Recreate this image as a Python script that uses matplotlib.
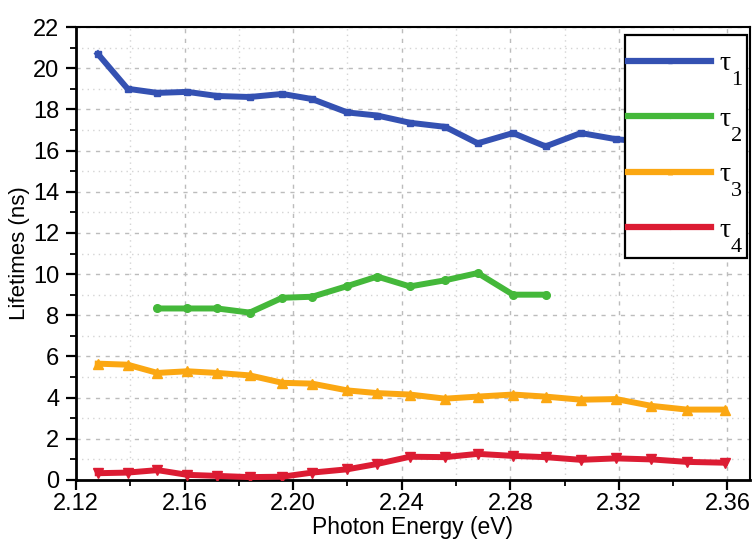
import matplotlib

matplotlib.use("Agg")
import matplotlib.pyplot as plt
from matplotlib.patches import Rectangle
from matplotlib.ticker import MultipleLocator

# -----------------------------
# Data
# -----------------------------
energy = [2.128, 2.139, 2.150, 2.161, 2.172, 2.184, 2.196, 2.207, 2.220, 2.231,
          2.243, 2.256, 2.268, 2.281, 2.293, 2.306, 2.319, 2.332, 2.345, 2.359]

tau1 = [20.7, 19.0, 18.8, 18.85, 18.65, 18.6, 18.75, 18.5, 17.85, 17.7,
        17.35, 17.15, 16.35, 16.85, 16.2, 16.85, 16.55, 16.4, 16.2, 16.1]

energy_tau2 = energy[2:15]
tau2 = [8.33, 8.33, 8.33, 8.13, 8.85, 8.9, 9.42, 9.88, 9.4, 9.7, 10.05, 9.0, 9.0]

tau3 = [5.65, 5.6, 5.2, 5.28, 5.2, 5.08, 4.72, 4.68, 4.35, 4.22,
        4.15, 3.95, 4.05, 4.15, 4.05, 3.9, 3.93, 3.6, 3.42, 3.42]

tau4 = [0.33, 0.36, 0.48, 0.25, 0.2, 0.14, 0.16, 0.36, 0.52, 0.78,
        1.13, 1.11, 1.27, 1.17, 1.11, 0.98, 1.05, 1.0, 0.88, 0.84]

x_ticks = [2.12, 2.16, 2.20, 2.24, 2.28, 2.32, 2.36]
x_tick_labels = ["2.12", "2.16", "2.20", "2.24", "2.28", "2.32", "2.36"]

legend_subscripts = ["1", "2", "3", "4"]

# -----------------------------
# Figure
# -----------------------------
plt.rcParams["font.family"] = ["Liberation Sans", "DejaVu Sans"]

W, H = 754, 542
fig = plt.figure(figsize=(W / 100, H / 100), dpi=100)
ax = fig.add_axes([76 / W, 1 - 480 / H, 674 / W, 453 / H])

lw = 4.3
ax.plot(energy, tau1, color="#3451b2", lw=lw, marker="s", ms=5,
        label="τ", zorder=3)
ax.plot(energy_tau2, tau2, color="#44b83a", lw=lw, marker="o", ms=5.5,
        label="τ", zorder=3)
ax.plot(energy, tau3, color="#fba712", lw=lw, marker="^", ms=6.5,
        label="τ", zorder=3)
ax.plot(energy, tau4, color="#dc1c33", lw=lw, marker="v", ms=6.5,
        label="τ", zorder=3)

# -----------------------------
# Axes styling
# -----------------------------
ax.set_xlim(2.12, 2.3683)
ax.set_ylim(0, 22)
ax.set_xticks(x_ticks)
ax.set_xticklabels(x_tick_labels)
ax.xaxis.set_minor_locator(MultipleLocator(0.02))
ax.yaxis.set_major_locator(MultipleLocator(2))
ax.yaxis.set_minor_locator(MultipleLocator(1))

ax.tick_params(axis="both", which="major", direction="out", length=7,
               width=1.6, labelsize=17)
ax.tick_params(axis="y", which="major", pad=5)
ax.tick_params(axis="x", which="major", pad=2.5)
ax.tick_params(axis="both", which="minor", direction="out", length=4.5,
               width=1.3)

for side in ["left", "bottom"]:
    ax.spines[side].set_linewidth(2)
for side in ["top", "right"]:
    ax.spines[side].set_linewidth(1.5)

ax.grid(which="major", color="#bcbcbc", ls=(0, (3, 4)), lw=1.0)
ax.grid(which="minor", color="#d4d4d4", ls=(0, (1, 3)), lw=1.0)
ax.set_axisbelow(True)

ax.set_xlabel("Photon Energy (eV)", fontsize=16.5, labelpad=0.5)
ax.set_ylabel("Lifetimes (ns)", fontsize=16, labelpad=2)

# -----------------------------
# Legend (frame drawn by hand, subscripts added after layout)
# -----------------------------
frame = Rectangle((625 / W, 1 - 258 / H), 122 / W, 223 / H,
                  transform=fig.transFigure, facecolor="white",
                  edgecolor="black", lw=1.6, clip_on=False, zorder=8)
ax.add_patch(frame)

leg = ax.legend(loc="upper left", bbox_to_anchor=(628 / W, 1 - 51 / H),
                bbox_transform=fig.transFigure, borderaxespad=0, borderpad=0,
                prop={"family": "Liberation Serif", "size": 20},
                handlelength=3.0, labelspacing=1.08, handletextpad=0.29,
                frameon=False, markerscale=0.5)
leg.set_zorder(9)
for line in leg.get_lines():
    line.set_linewidth(4.5)

fig.canvas.draw()
renderer = fig.canvas.get_renderer()
for txt, sub in zip(leg.get_texts(), legend_subscripts):
    bb = txt.get_window_extent(renderer)
    fig.text((bb.x1 + 0.5) / W, (bb.y0 - 9) / H, sub, fontsize=16,
             family="Liberation Serif", ha="left", va="baseline", zorder=10)

fig.savefig("out.png", dpi=100)
plt.close(fig)
